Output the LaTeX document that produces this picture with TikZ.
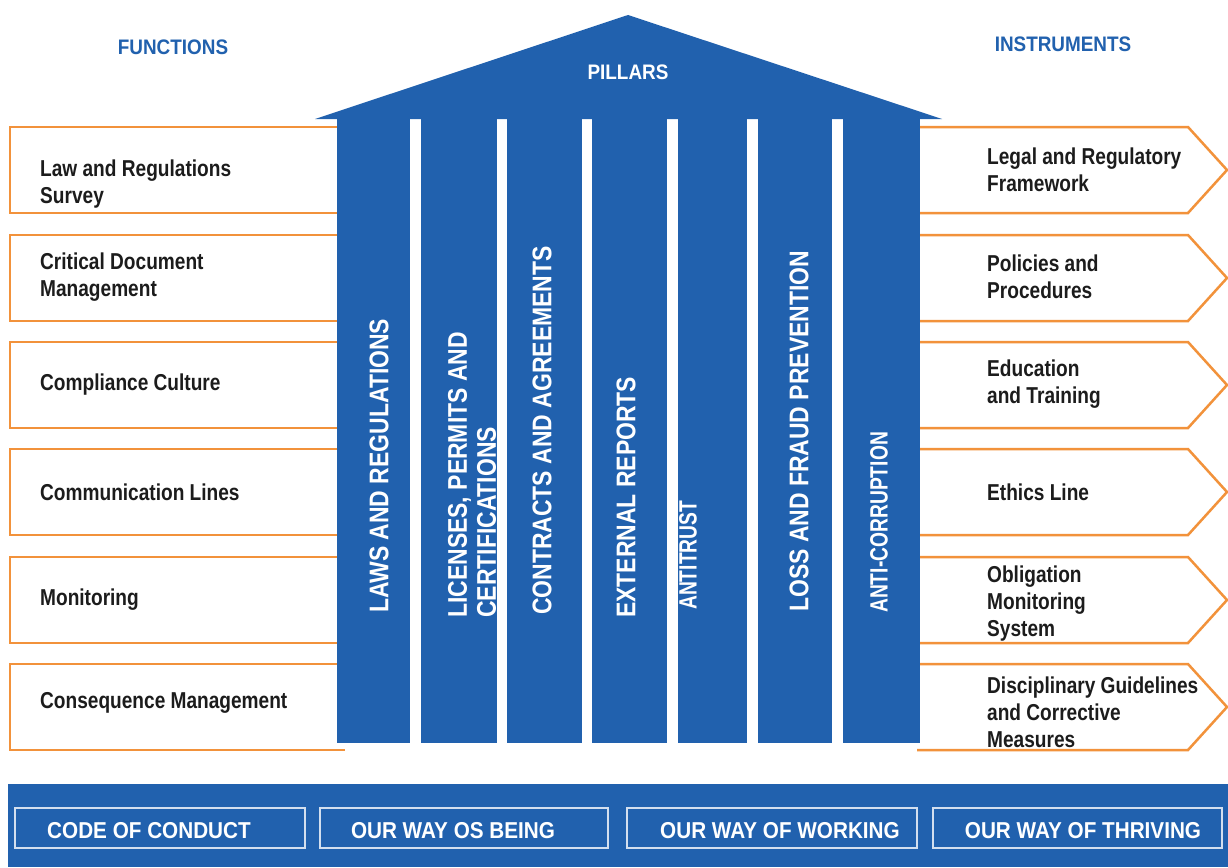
\documentclass[tikz,border=0pt]{standalone}
\usepackage{fontspec}
\setmainfont{Liberation Sans}
\newfontfamily\narrowfont[FakeStretch=0.83]{Liberation Sans}
\newfontfamily\pillarfont[FakeStretch=0.85]{Liberation Sans}
\newfontfamily\tightfont[FakeStretch=0.77]{Liberation Sans}
\newfontfamily\headfont[FakeStretch=0.9]{Liberation Sans}
\definecolor{pillarblue}{HTML}{2161AE}
\definecolor{frameorange}{HTML}{F2923B}
\definecolor{labelgray}{HTML}{1C1C1C}
\tikzset{
  funcbox/.style={draw=frameorange,line width=2.5pt,line join=miter},
  sidelabel/.style={anchor=west,align=left,inner sep=0pt,text=labelgray,
    font=\narrowfont\bfseries\fontsize{23}{27}\selectfont},
  pillarlabel/.style={rotate=90,anchor=west,align=left,inner sep=0pt,text=white,
    font=\pillarfont\bfseries\fontsize{27}{29}\selectfont},
  squeezed/.style={font=\tightfont\bfseries\fontsize{25}{27}\selectfont},
  heading/.style={inner sep=0pt,font=\headfont\bfseries\fontsize{21}{23}\selectfont},
  basebox/.style={draw=white!80!pillarblue,line width=1.6pt},
  baselabel/.style={inner sep=0pt,text=white,font=\headfont\bfseries\fontsize{23}{25}\selectfont}
}
\begin{document}
\begin{tikzpicture}[x=1pt,y=-1pt]
  \fill[white] (0,0) rectangle (1228,867);
  \useasboundingbox (0,0) rectangle (1228,867);
  % headings
  \node[heading,text=pillarblue] (functions) at (173,47) {FUNCTIONS};
  \node[heading,text=pillarblue] (instruments) at (1063,44) {INSTRUMENTS};
  % function frames on the left, instrument arrows on the right
  \foreach \t in {127,235,342,449,557,664}{
    \draw[funcbox] (345,\t) -- (10,\t) -- (10,\t+86) -- (345,\t+86);
    \draw[funcbox] (917,\t) -- (1188,\t) -- (1227,\t+43) -- (1188,\t+86) -- (917,\t+86);
  }
  % roof and pillars
  \fill[pillarblue] (315,119) -- (628,15) -- (942,119) -- cycle;
  \foreach \a/\b in {337/410,421/497,507/582,592/667,678/747,758/832,843/920}
    \fill[pillarblue] (\a,118) rectangle (\b,743);
  \node[heading,text=white] (pillars) at (628,72) {PILLARS};
  \node[pillarlabel] (laws) at (379,613) {LAWS AND REGULATIONS};
  \node[pillarlabel] (licenses) at (472,618) {LICENSES, PERMITS AND\\CERTIFICATIONS};
  \node[pillarlabel] (contracts) at (542,615) {CONTRACTS AND AGREEMENTS};
  \node[pillarlabel] (external) at (626,618) {EXTERNAL REPORTS};
  \node[pillarlabel,squeezed] (antitrust) at (688,610) {ANTITRUST};
  \node[pillarlabel] (fraud) at (799,612) {LOSS AND FRAUD PREVENTION};
  \node[pillarlabel,squeezed] (anticorr) at (879,613) {ANTI-CORRUPTION};
  % functions
  \node[sidelabel] (survey) at (40,184) {Law and Regulations\\Survey};
  \node[sidelabel] (documents) at (40,277) {Critical Document\\Management};
  \node[sidelabel] (culture) at (40,385) {Compliance Culture};
  \node[sidelabel] (communication) at (40,492) {Communication Lines};
  \node[sidelabel] (monitoring) at (40,600) {Monitoring};
  \node[sidelabel] (consequence) at (40,703) {Consequence Management};
  % instruments
  \node[sidelabel] (framework) at (987,170) {Legal and Regulatory\\Framework};
  \node[sidelabel] (policies) at (987,277) {Policies and\\Procedures};
  \node[sidelabel] (training) at (987,384) {Education\\and Training};
  \node[sidelabel] (ethics) at (987,492) {Ethics Line};
  \node[sidelabel] (obligation) at (987,604) {Obligation\\Monitoring\\System};
  \node[sidelabel] (disciplinary) at (987,712) {Disciplinary Guidelines\\and Corrective\\Measures};
  % foundation
  \fill[pillarblue] (8,784) rectangle (1228,867);
  \foreach \a/\b/\m/\n/\txt in {15/305/149/conduct/CODE OF CONDUCT,320/608/453/being/OUR WAY OS BEING,
      627/917/780/working/OUR WAY OF WORKING,933/1222/1083/thriving/OUR WAY OF THRIVING}{
    \draw[basebox] (\a,808) rectangle (\b,848);
    \node[baselabel] (\n) at (\m,831) {\txt};
  }
\end{tikzpicture}
\end{document}
